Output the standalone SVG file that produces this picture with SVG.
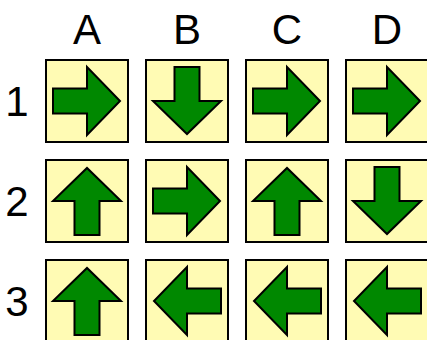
<svg xmlns="http://www.w3.org/2000/svg" width="427" height="340" viewBox="0 0 427 340">
<style>
.cell{fill:#fffbb4;stroke:#000;stroke-width:2}
.arr{fill:#008800;stroke:#000;stroke-width:2;stroke-linejoin:miter}
.lbl{font-family:"Liberation Sans",Arial,sans-serif;font-size:42px;fill:#000;text-anchor:middle}
</style>
<defs>
<g id="cellbox"><rect class="cell" x="-41" y="-41" width="82" height="82"/></g>
<path id="arrow" class="arr" d="M-34,-12.5 H0 V-34 L33,0 L0,34 V12.5 H-34 Z"/>
</defs>
<g id="labels">
<text class="lbl" x="87" y="44">A</text>
<text class="lbl" x="187" y="44">B</text>
<text class="lbl" x="287" y="44">C</text>
<text class="lbl" x="387" y="44">D</text>
<text class="lbl" x="17" y="116">1</text>
<text class="lbl" x="17" y="216">2</text>
<text class="lbl" x="17" y="316">3</text>
</g>
<g id="A1" transform="translate(87,101)"><use href="#cellbox"/><use href="#arrow"/></g>
<g id="B1" transform="translate(187,101)"><use href="#cellbox"/><use href="#arrow" transform="rotate(90)"/></g>
<g id="C1" transform="translate(287,101)"><use href="#cellbox"/><use href="#arrow"/></g>
<g id="D1" transform="translate(387,101)"><use href="#cellbox"/><use href="#arrow"/></g>
<g id="A2" transform="translate(87,201)"><use href="#cellbox"/><use href="#arrow" transform="rotate(-90)"/></g>
<g id="B2" transform="translate(187,201)"><use href="#cellbox"/><use href="#arrow"/></g>
<g id="C2" transform="translate(287,201)"><use href="#cellbox"/><use href="#arrow" transform="rotate(-90)"/></g>
<g id="D2" transform="translate(387,201)"><use href="#cellbox"/><use href="#arrow" transform="rotate(90)"/></g>
<g id="A3" transform="translate(87,301)"><use href="#cellbox"/><use href="#arrow" transform="rotate(-90)"/></g>
<g id="B3" transform="translate(187,301)"><use href="#cellbox"/><use href="#arrow" transform="rotate(180)"/></g>
<g id="C3" transform="translate(287,301)"><use href="#cellbox"/><use href="#arrow" transform="rotate(180)"/></g>
<g id="D3" transform="translate(387,301)"><use href="#cellbox"/><use href="#arrow" transform="rotate(180)"/></g>
<g id="connectors"/>
</svg>
